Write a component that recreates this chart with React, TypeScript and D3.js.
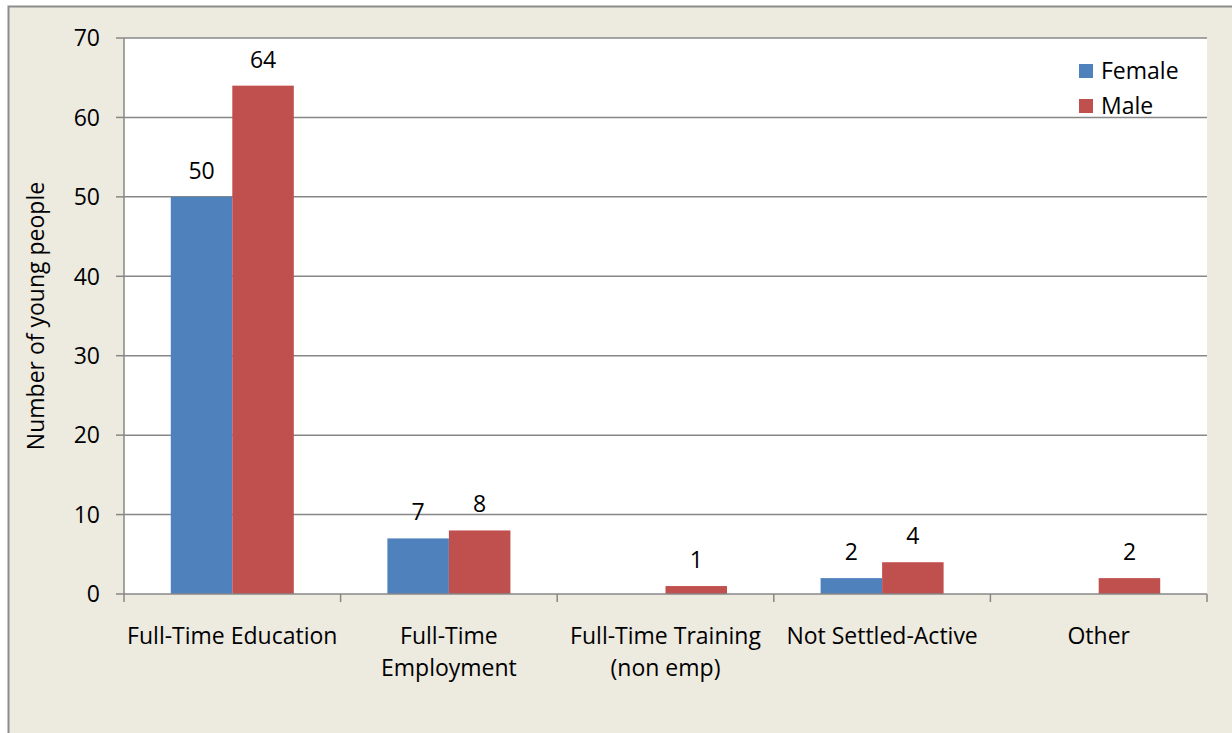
import * as d3 from "d3";
import React from "react";

const categories = [
  ["Full-Time Education"],
  ["Full-Time", "Employment"],
  ["Full-Time Training", "(non emp)"],
  ["Not Settled-Active"],
  ["Other"],
];
const seriesNames = ["Female", "Male"];
const female = [50, 7, 0, 2, 0];
const male = [64, 8, 1, 4, 2];
const yTicks = [0, 10, 20, 30, 40, 50, 60, 70];

const colors = ["#4F81BD", "#C0504D"];
const font = "'Open Sans', 'Noto Sans', sans-serif";
const fs = 23;

const App: React.FC = () => {
  const width = 1232;
  const height = 733;
  const left = 124;
  const right = 1207;
  const top = 38;
  const bottom = 594;

  const x = d3.scaleBand<number>().domain(d3.range(categories.length)).range([left, right]);
  const y = d3.scaleLinear().domain([0, 70]).range([bottom, top]);
  const barW = x.bandwidth() * 0.284;
  const values = [female, male];

  return (
    <svg width={width} height={height} style={{ position: "absolute", left: 0, top: 0 }} fontFamily={font}>
      <rect x={0} y={0} width={width} height={height} fill="#ffffff" />
      <rect x={8.5} y={6.5} width={width + 20} height={height + 20} fill="#EDEAE0" stroke="#8c8c8c" strokeWidth={2} />
      <rect x={left} y={top} width={right - left} height={bottom - top} fill="#ffffff" />
      {yTicks.map(t => (
        <g key={t}>
          {t > 0 && <line x1={left} x2={right} y1={y(t)} y2={y(t)} stroke="#878787" strokeWidth={1.5} />}
          <line x1={left - 8} x2={left} y1={y(t)} y2={y(t)} stroke="#878787" strokeWidth={1.5} />
          <text x={left - 24} y={y(t)} dy="0.36em" textAnchor="end" fontSize={fs} fill="#000">{t}</text>
        </g>
      ))}
      {values.map((vals, s) =>
        vals.map((v, i) => {
          const bx = x(i)! + x.bandwidth() / 2 - barW + s * barW;
          return (
            <g key={`${s}-${i}`}>
              {v > 0 && <rect x={bx} y={y(v)} width={barW} height={bottom - y(v)} fill={colors[s]} />}
              {v > 0 && (
                <text x={bx + barW / 2} y={y(v) - 18} textAnchor="middle" fontSize={fs} fill="#000">{v}</text>
              )}
            </g>
          );
        })
      )}
      <line x1={left} x2={left} y1={top} y2={bottom} stroke="#878787" strokeWidth={1.5} />
      <line x1={left} x2={right} y1={bottom} y2={bottom} stroke="#878787" strokeWidth={1.5} />
      {d3.range(categories.length + 1).map(i => {
        const tx = left + i * x.step();
        return <line key={i} x1={tx} x2={tx} y1={bottom} y2={bottom + 8} stroke="#878787" strokeWidth={1.5} />;
      })}
      {categories.map((lines, i) => (
        <text key={i} x={x(i)! + x.bandwidth() / 2} y={644} textAnchor="middle" fontSize={fs} fill="#000">
          {lines.map((l, j) => (
            <tspan key={j} x={x(i)! + x.bandwidth() / 2} dy={j === 0 ? 0 : 32}>{l}</tspan>
          ))}
        </text>
      ))}
      <text transform={`translate(44,${(top + bottom) / 2}) rotate(-90)`} textAnchor="middle" fontSize={fs} fill="#000">
        Number of young people
      </text>
      {seriesNames.map((n, s) => (
        <g key={n}>
          <rect x={1079} y={64 + s * 35} width={14} height={14} fill={colors[s]} />
          <text x={1101} y={71 + s * 35} dy="0.36em" fontSize={fs} fill="#000">{n}</text>
        </g>
      ))}
    </svg>
  );
};

export default App;
